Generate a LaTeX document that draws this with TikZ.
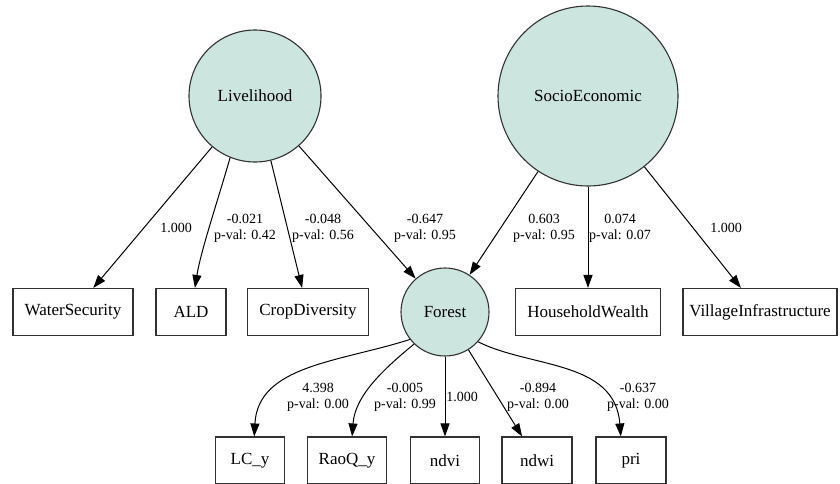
\documentclass[tikz,border=0pt]{standalone}
\usepackage{fontspec}
\setmainfont{Liberation Serif}
\usetikzlibrary{arrows.meta, positioning}
\definecolor{latentfill}{RGB}{204,229,222}
\definecolor{shapegray}{RGB}{50,50,50}

\begin{document}
\begin{tikzpicture}[x=1pt, y=-1pt,
    every node/.style={font=\fontsize{17}{20}\selectfont},
    latent/.style={draw=shapegray, circle, fill=latentfill, line width=1.1pt, inner sep=0pt, minimum size=#1},
    obsbox/.style={draw=shapegray, rectangle, line width=1.1pt, minimum height=47pt, minimum width=#1, inner xsep=3pt},
    lbl/.style={font=\fontsize{14}{16}\selectfont, align=center, inner sep=0pt},
    arrow/.style={-{Triangle[length=13pt, width=9pt]}, line width=1pt}
]
    \useasboundingbox (0,0) rectangle (840,483);

    % Latent variables
    \node (liv) [latent=132pt] at (255,96) {Livelihood};
    \node (soc) [latent=180pt] at (588,96) {SocioEconomic};
    \node (forest) [latent=88pt] at (445,312) {Forest};

    % Indicators, first row
    \node (ws) [obsbox=120pt] at (73,312) {WaterSecurity};
    \node (ald) [obsbox=70pt] at (191,312) {ALD};
    \node (cd) [obsbox=121pt] at (308,312) {CropDiversity};
    \node (hw) [obsbox=145pt] at (588,312) {HouseholdWealth};
    \node (vi) [obsbox=154pt] at (760,312) {VillageInfrastructure};

    % Indicators, second row
    \node (lcy) [obsbox=69pt] at (250,460.5) {LC\_y};
    \node (rqy) [obsbox=79pt] at (347,460.5) {RaoQ\_y};
    \node (ndvi) [obsbox=69pt] at (445,460.5) {ndvi};
    \node (ndwi) [obsbox=70pt] at (537,460.5) {ndwi};
    \node (pri) [obsbox=70pt] at (631,460.5) {pri};

    % Livelihood loadings
    \draw [arrow] (liv) -- (ws) node[lbl] at (176,228) {1.000};
    \draw [arrow] (liv.248) .. controls (218,200) and (201,250) .. (ald) node[lbl] at (245,228) {-0.021\\p-val: 0.42};
    \draw [arrow] (liv) -- (cd) node[lbl] at (323,228) {-0.048\\p-val: 0.56};
    \draw [arrow] (liv) -- (forest) node[lbl] at (425,228) {-0.647\\p-val: 0.95};

    % SocioEconomic loadings
    \draw [arrow] (soc) -- (forest) node[lbl] at (544,228) {0.603\\p-val: 0.95};
    \draw [arrow] (soc) -- (hw) node[lbl] at (620,228) {0.074\\p-val: 0.07};
    \draw [arrow] (soc) -- (vi) node[lbl] at (726,228) {1.000};

    % Forest loadings
    \draw [arrow] (forest.218) .. controls (340,362) and (258,365) .. (lcy.80) node[lbl] at (318,397) {4.398\\p-val: 0.00};
    \draw [arrow] (forest.226) .. controls (385,368) and (355,395) .. (rqy.78) node[lbl] at (405,397) {-0.005\\p-val: 0.99};
    \draw [arrow] (forest) -- (ndvi) node[lbl] at (462,397) {1.000};
    \draw [arrow] (forest) -- (ndwi) node[lbl] at (538,397) {-0.894\\p-val: 0.00};
    \draw [arrow] (forest.318) .. controls (530,368) and (615,360) .. (pri.113) node[lbl] at (638,397) {-0.637\\p-val: 0.00};

\end{tikzpicture}
\end{document}
